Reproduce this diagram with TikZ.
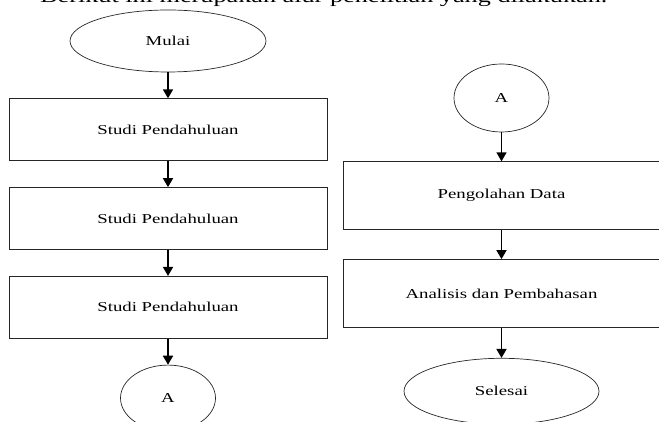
\documentclass[tikz,border=0pt]{standalone}
\usepackage{fontspec}
\setmainfont[FakeStretch=1.38]{Liberation Serif}
\usetikzlibrary{arrows.meta, positioning, shapes.geometric}

\begin{document}
\begin{tikzpicture}[x=1pt, y=1pt,
            node distance=26pt,
            box/.style={rectangle, draw=black!85, line width=0.8pt,
                        minimum width=318pt, minimum height=62pt, align=center,
                        font=\fontsize{13.6}{16}\selectfont},
            oval/.style={ellipse, draw=black!85, line width=0.7pt, inner sep=0pt,
                        font=\fontsize{13.6}{16}\selectfont},
            arrow/.style={-{Triangle[width=10pt, length=9pt]}, line width=1.6pt}
        ]
            \useasboundingbox (0,0) rectangle (659,422);
            \clip (0,0) rectangle (659,422);

            % Intro line, cut off at the top
            \node[anchor=base west, inner sep=0pt, font=\fontsize{19}{22}\selectfont]
                (intro) at (40,419) {Berikut ini merupakan alur penelitian yang dilakukan.};

            % Left column
            \node[oval, minimum width=196pt, minimum height=62pt] (mulai) at (168,381) {Mulai};
            \node[box, below=of mulai] (studi1) {Studi Pendahuluan};
            \node[box, below=of studi1] (studi2) {Studi Pendahuluan};
            \node[box, below=of studi2] (studi3) {Studi Pendahuluan};
            \node[oval, minimum width=95pt, minimum height=66pt, below=of studi3] (konA) {A};

            % Right column
            \node[oval, minimum width=95pt, minimum height=68pt] (konB) at (501.5,324) {A};
            \node[box, minimum width=317pt, minimum height=68pt, below=29pt of konB] (olah) {Pengolahan Data};
            \node[box, minimum width=317pt, minimum height=68pt, below=29pt of olah] (analisis) {Analisis dan Pembahasan};
            \node[oval, minimum width=195pt, minimum height=66pt, below=30pt of analisis] (selesai) {Selesai};

            % Arrows
            \draw[arrow] (mulai) -- (studi1);
            \draw[arrow] (studi1) -- (studi2);
            \draw[arrow] (studi2) -- (studi3);
            \draw[arrow] (studi3) -- (konA);
            \draw[arrow] (konB) -- (olah);
            \draw[arrow] (olah) -- (analisis);
            \draw[arrow] (analisis) -- (selesai);
        \end{tikzpicture}
\end{document}
